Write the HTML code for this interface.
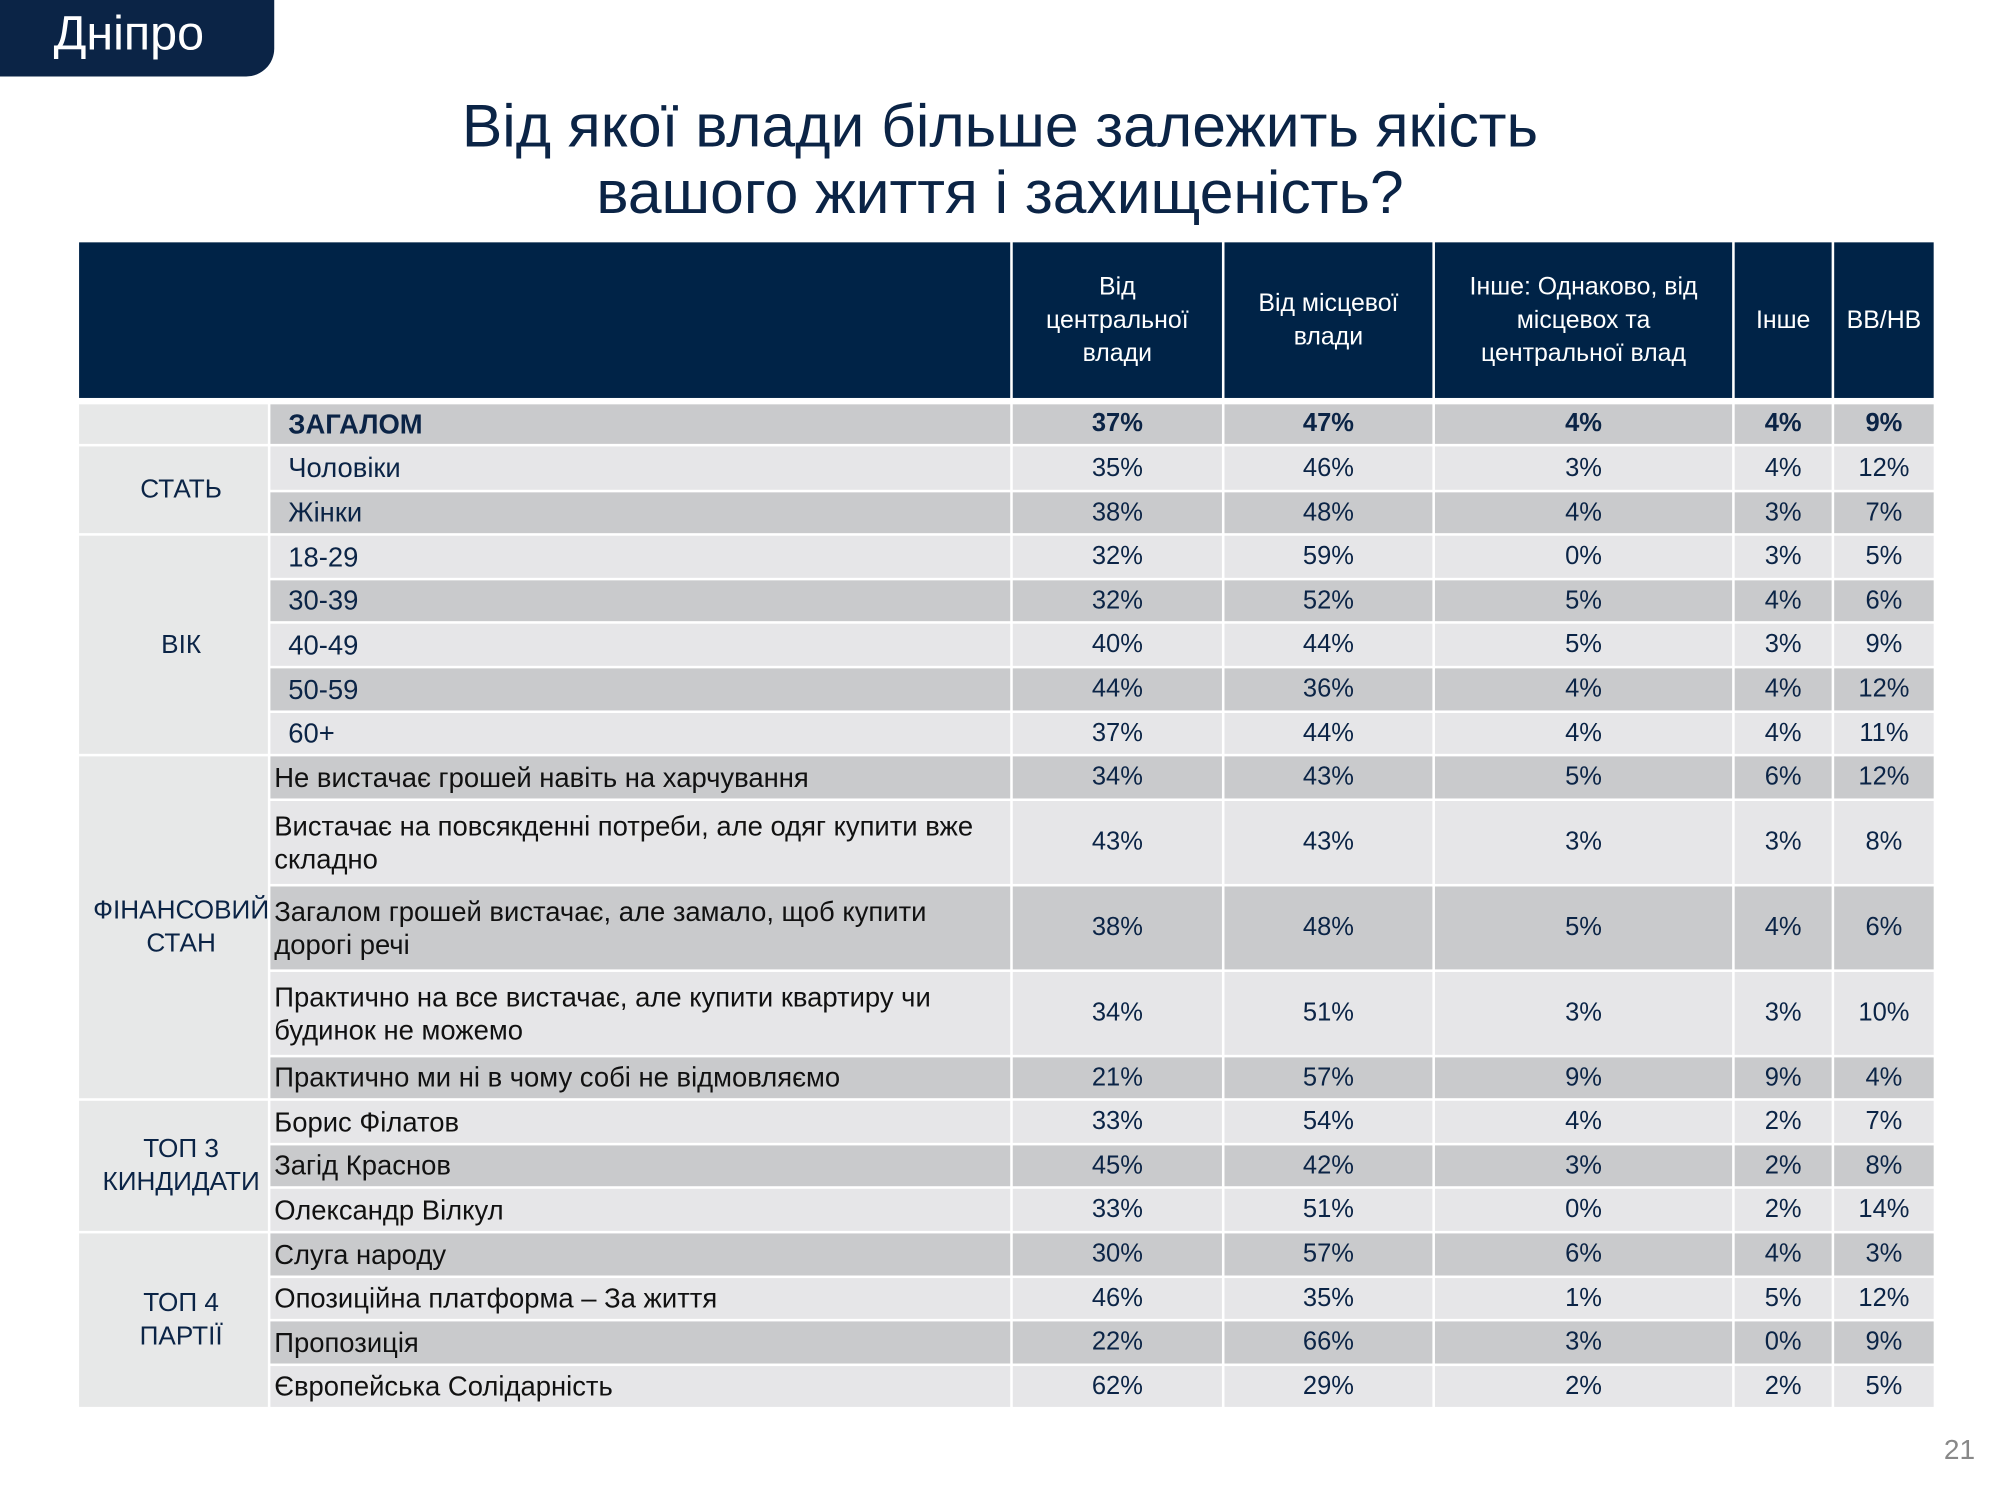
<!DOCTYPE html>
<html><head><meta charset="utf-8"><style>
html,body{margin:0;padding:0;background:#fff;}
body{width:2000px;height:1500px;overflow:hidden;position:relative;font-family:"Liberation Sans",sans-serif;}
#w{position:absolute;left:0;top:0;width:1568px;height:1176px;transform:scale(1.27551);transform-origin:0 0;}
.tab{position:absolute;left:0;top:0;width:215px;height:60px;background:#0b2446;border-bottom-right-radius:22px;color:#fff;font-size:38px;line-height:54px;padding-left:42px;box-sizing:border-box;}
.title{position:absolute;left:0;width:1568px;text-align:center;color:#0b2446;font-size:47.5px;line-height:52px;top:74px;}
.hdr{position:absolute;top:190px;height:122px;background:#002347;}
.hc{position:absolute;top:190px;height:122px;color:#fff;font-size:19.5px;line-height:26px;display:flex;align-items:center;justify-content:center;text-align:center;}
.row{position:absolute;left:212px;display:flex;gap:2px;}
.row div{display:flex;align-items:center;justify-content:center;color:#0b2446;font-size:20px;}
.row div:nth-child(1){width:580px;justify-content:flex-start;padding-left:14px;box-sizing:border-box;line-height:26px;font-size:21.5px;white-space:nowrap;}
.row.f div:nth-child(1){padding-left:3px;color:#111;}
.row div:nth-child(2){width:164px}.row div:nth-child(3){width:163px}.row div:nth-child(4){width:233px}.row div:nth-child(5){width:76px}.row div:nth-child(6){width:78px}
.L div{background:#e6e6e8}.D div{background:#c9cacc}
.b div{font-weight:bold}
.cat{position:absolute;left:62px;width:148px;padding-left:12px;box-sizing:border-box;background:#e7e8e8;color:#0b2446;font-size:20.5px;line-height:26px;display:flex;align-items:center;justify-content:center;text-align:center;}
.pn{position:absolute;left:1524px;top:1124px;color:#888;font-size:22px;}
</style></head><body><div id="w">
<div class="tab">Дніпро</div>
<div class="title">Від якої влади більше залежить якість<br>вашого життя і захищеність?</div>
<div class="hdr" style="left:62px;width:730px"></div>
<div class="hdr" style="left:794px;width:164px"></div>
<div class="hdr" style="left:960px;width:163px"></div>
<div class="hdr" style="left:1125px;width:233px"></div>
<div class="hdr" style="left:1360px;width:76px"></div>
<div class="hdr" style="left:1438px;width:78px"></div>
<div class="hc" style="left:794px;width:164px">Від<br>центральної<br>влади</div>
<div class="hc" style="left:960px;width:163px">Від місцевої<br>влади</div>
<div class="hc" style="left:1125px;width:233px">Інше: Однаково, від<br>місцевох та<br>центральної влад</div>
<div class="hc" style="left:1360px;width:76px">Інше</div>
<div class="hc" style="left:1438px;width:78px">ВВ/НВ</div>

<div class="cat" style="top:317px;height:31px"></div>
<div class="cat" style="top:350px;height:68px">СТАТЬ</div>
<div class="cat" style="top:420px;height:171px">ВІК</div>
<div class="cat" style="top:593px;height:268px">ФІНАНСОВИЙ<br>СТАН</div>
<div class="cat" style="top:863px;height:102px">ТОП 3<br>КИНДИДАТИ</div>
<div class="cat" style="top:967px;height:136px">ТОП 4<br>ПАРТІЇ</div>

<div class="row D b" style="top:317px;height:31px"><div>ЗАГАЛОМ</div><div>37%</div><div>47%</div><div>4%</div><div>4%</div><div>9%</div></div>
<div class="row L" style="top:350px;height:34px"><div>Чоловіки</div><div>35%</div><div>46%</div><div>3%</div><div>4%</div><div>12%</div></div>
<div class="row D" style="top:386px;height:32px"><div>Жінки</div><div>38%</div><div>48%</div><div>4%</div><div>3%</div><div>7%</div></div>
<div class="row L" style="top:420px;height:33px"><div>18-29</div><div>32%</div><div>59%</div><div>0%</div><div>3%</div><div>5%</div></div>
<div class="row D" style="top:455px;height:32px"><div>30-39</div><div>32%</div><div>52%</div><div>5%</div><div>4%</div><div>6%</div></div>
<div class="row L" style="top:489px;height:33px"><div>40-49</div><div>40%</div><div>44%</div><div>5%</div><div>3%</div><div>9%</div></div>
<div class="row D" style="top:524px;height:33px"><div>50-59</div><div>44%</div><div>36%</div><div>4%</div><div>4%</div><div>12%</div></div>
<div class="row L" style="top:559px;height:32px"><div>60+</div><div>37%</div><div>44%</div><div>4%</div><div>4%</div><div>11%</div></div>
<div class="row D f" style="top:593px;height:33px"><div>Не вистачає грошей навіть на харчування</div><div>34%</div><div>43%</div><div>5%</div><div>6%</div><div>12%</div></div>
<div class="row L f" style="top:628px;height:65px"><div>Вистачає на повсякденні потреби, але одяг купити вже<br>складно</div><div>43%</div><div>43%</div><div>3%</div><div>3%</div><div>8%</div></div>
<div class="row D f" style="top:695px;height:65px"><div>Загалом грошей вистачає, але замало, щоб купити<br>дорогі речі</div><div>38%</div><div>48%</div><div>5%</div><div>4%</div><div>6%</div></div>
<div class="row L f" style="top:762px;height:65px"><div>Практично на все вистачає, але купити квартиру чи<br>будинок не можемо</div><div>34%</div><div>51%</div><div>3%</div><div>3%</div><div>10%</div></div>
<div class="row D f" style="top:829px;height:32px"><div>Практично ми ні в чому собі не відмовляємо</div><div>21%</div><div>57%</div><div>9%</div><div>9%</div><div>4%</div></div>
<div class="row L f" style="top:863px;height:33px"><div>Борис Філатов</div><div>33%</div><div>54%</div><div>4%</div><div>2%</div><div>7%</div></div>
<div class="row D f" style="top:898px;height:32px"><div>Загід Краснов</div><div>45%</div><div>42%</div><div>3%</div><div>2%</div><div>8%</div></div>
<div class="row L f" style="top:932px;height:33px"><div>Олександр Вілкул</div><div>33%</div><div>51%</div><div>0%</div><div>2%</div><div>14%</div></div>
<div class="row D f" style="top:967px;height:33px"><div>Слуга народу</div><div>30%</div><div>57%</div><div>6%</div><div>4%</div><div>3%</div></div>
<div class="row L f" style="top:1002px;height:32px"><div>Опозиційна платформа – За життя</div><div>46%</div><div>35%</div><div>1%</div><div>5%</div><div>12%</div></div>
<div class="row D f" style="top:1036px;height:33px"><div>Пропозиція</div><div>22%</div><div>66%</div><div>3%</div><div>0%</div><div>9%</div></div>
<div class="row L f" style="top:1071px;height:32px"><div>Європейська Солідарність</div><div>62%</div><div>29%</div><div>2%</div><div>2%</div><div>5%</div></div>
<div class="pn">21</div>
</div></body></html>
